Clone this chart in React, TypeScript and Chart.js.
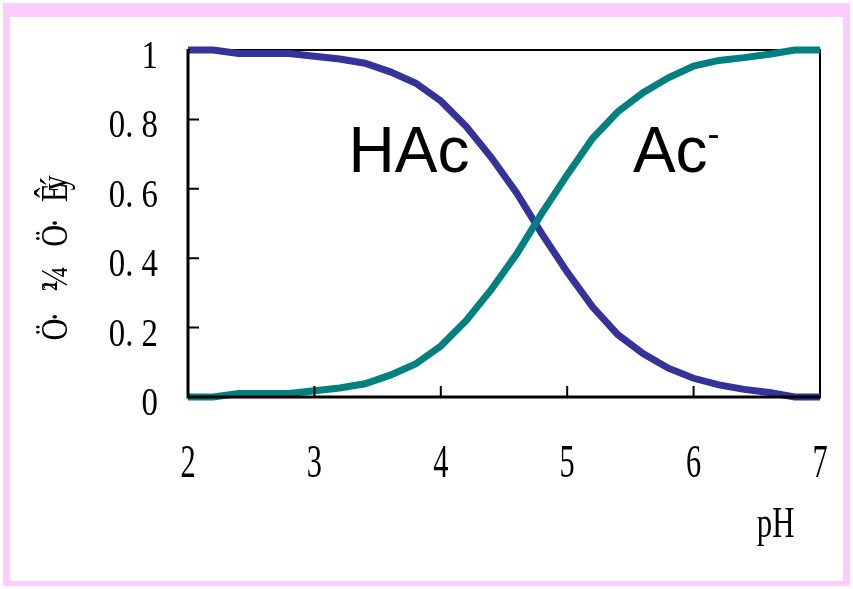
import React, { useEffect, useRef } from "react";
import { Chart, registerables } from "chart.js";

Chart.register(...registerables);

// pH grid and species fractions
const pH = [2.0, 2.2, 2.4, 2.6, 2.8, 3.0, 3.2, 3.4, 3.6, 3.8, 4.0, 4.2, 4.4, 4.6, 4.8, 5.0, 5.2, 5.4, 5.6, 5.8, 6.0, 6.2, 6.4, 6.6, 6.8, 7.0];
const hac = [1.0, 1.0, 0.99, 0.99, 0.99, 0.982, 0.974, 0.962, 0.937, 0.905, 0.853, 0.78, 0.69, 0.588, 0.47, 0.36, 0.26, 0.18, 0.125, 0.083, 0.054, 0.035, 0.022, 0.013, 0.0, 0.0];
const acMinus = [0.0, 0.0, 0.01, 0.01, 0.01, 0.018, 0.026, 0.038, 0.063, 0.095, 0.147, 0.22, 0.31, 0.412, 0.53, 0.64, 0.745, 0.822, 0.877, 0.92, 0.954, 0.97, 0.978, 0.988, 1.0, 1.0];

const xTicks = [2, 3, 4, 5, 6, 7];
const xTickLabels = ["2", "3", "4", "5", "6", "7"];
const yTicks = [0, 0.2, 0.4, 0.6, 0.8, 1];
const yTickLabels = ["0", "0. 2", "0. 4", "0. 6", "0. 8", "1"];
const xTitle = "pH";
const yTitleParts = ["Ö·", "²¼", "Ö·", "Êý"];
const hacLabel = "HAc";
const acLabel = "Ac";
const acCharge = "-";

const HAC_COLOR = "#333399";
const AC_COLOR = "#008080";
const SERIF = "'Liberation Serif', 'DejaVu Serif', serif";
const SANS = "'Liberation Sans', Arial, sans-serif";

function condensedText(
  ctx: CanvasRenderingContext2D,
  text: string,
  x: number,
  y: number,
  font: string,
  sx: number,
  align: CanvasTextAlign
) {
  ctx.save();
  ctx.translate(x, y);
  ctx.scale(sx, 1);
  ctx.font = font;
  ctx.textAlign = align;
  ctx.textBaseline = "alphabetic";
  ctx.fillStyle = "#000";
  ctx.fillText(text, 0, 0);
  ctx.restore();
}

const framePlugin = {
  id: "frameAndText",
  beforeDatasetsDraw(chart: any) {
    const { ctx, chartArea } = chart;
    const { left, right, top, bottom } = chartArea;
    ctx.save();
    ctx.strokeStyle = "#000";
    ctx.lineWidth = 2;
    ctx.beginPath();
    ctx.moveTo(left, top);
    ctx.lineTo(right, top);
    ctx.lineTo(right, bottom);
    ctx.stroke();
    ctx.restore();
  },
  afterDatasetsDraw(chart: any) {
    const { ctx, chartArea, scales } = chart;
    const { left, right, top, bottom } = chartArea;
    const xs = scales.x;
    const ys = scales.y;
    ctx.save();
    ctx.strokeStyle = "#000";
    // main axes
    ctx.lineWidth = 3;
    ctx.beginPath();
    ctx.moveTo(left, top - 1);
    ctx.lineTo(left, bottom);
    ctx.lineTo(right + 1, bottom);
    ctx.stroke();
    // inward tick marks
    ctx.lineWidth = 2;
    ctx.beginPath();
    yTicks.forEach((v) => {
      const py = ys.getPixelForValue(v);
      if (v > 0 && v < 1) {
        ctx.moveTo(left, py);
        ctx.lineTo(left + 11, py);
      }
    });
    xTicks.forEach((v) => {
      const px = xs.getPixelForValue(v);
      if (v > 2 && v < 7) {
        ctx.moveTo(px, bottom);
        ctx.lineTo(px, bottom - 11);
      }
    });
    ctx.stroke();
    ctx.restore();

    // tick labels
    yTicks.forEach((v, i) => {
      const py = ys.getPixelForValue(v);
      condensedText(ctx, yTickLabels[i], left - 30, py + 18, `40px ${SERIF}`, 0.82, "right");
    });
    xTicks.forEach((v, i) => {
      const px = xs.getPixelForValue(v);
      condensedText(ctx, xTickLabels[i], px, bottom + 80, `46px ${SERIF}`, 0.66, "center");
    });

    // axis titles
    condensedText(ctx, xTitle, xs.getPixelForValue(6.5), bottom + 140, `44px ${SERIF}`, 0.7, "left");
    const titleCenters = [0.2, 0.33, 0.47, 0.59];
    const titleSpacing = ["-4px", "-9px", "-4px", "-9px"];
    yTitleParts.forEach((part, i) => {
      const cy = ys.getPixelForValue(titleCenters[i]);
      ctx.save();
      ctx.translate(67, cy);
      ctx.rotate(-Math.PI / 2);
      ctx.scale(0.8, 1);
      ctx.font = `38px ${SERIF}`;
      (ctx as any).letterSpacing = titleSpacing[i];
      ctx.textAlign = "center";
      ctx.textBaseline = "alphabetic";
      ctx.fillStyle = "#000";
      ctx.fillText(part, 0, 0);
      ctx.restore();
    });

    // species labels
    ctx.save();
    ctx.fillStyle = "#000";
    ctx.textBaseline = "alphabetic";
    ctx.textAlign = "left";
    ctx.font = `64px ${SANS}`;
    ctx.fillText(hacLabel, xs.getPixelForValue(3.27), ys.getPixelForValue(0.649));
    const acX = xs.getPixelForValue(5.52);
    const acY = ys.getPixelForValue(0.649);
    ctx.fillText(acLabel, acX, acY);
    const w = ctx.measureText(acLabel).width;
    ctx.font = `36px ${SANS}`;
    ctx.fillText(acCharge, acX + w, acY - 26);
    ctx.restore();
  },
};

export default function App() {
  const canvasRef = useRef<HTMLCanvasElement | null>(null);

  useEffect(() => {
    const canvas = canvasRef.current;
    if (!canvas) return;
    const chart = new Chart(canvas, {
      type: "line",
      data: {
        datasets: [
          {
            label: "Ac-",
            data: pH.map((x, i) => ({ x, y: acMinus[i] })),
            borderColor: AC_COLOR,
            backgroundColor: AC_COLOR,
            borderWidth: 7,
            pointRadius: 0,
            tension: 0,
            clip: 12,
          },
          {
            label: "HAc",
            data: pH.map((x, i) => ({ x, y: hac[i] })),
            borderColor: HAC_COLOR,
            backgroundColor: HAC_COLOR,
            borderWidth: 7,
            pointRadius: 0,
            tension: 0,
            clip: 12,
          },
        ],
      },
      options: {
        animation: false,
        responsive: false,
        devicePixelRatio: 1,
        layout: { padding: { left: 188, top: 50, right: 33, bottom: 192 } },
        plugins: {
          legend: { display: false },
          tooltip: { enabled: false },
        },
        scales: {
          x: {
            type: "linear",
            min: 2,
            max: 7,
            ticks: { display: false },
            grid: { display: false },
            border: { display: false },
            afterFit: (s: any) => {
              s.height = 0;
            },
          },
          y: {
            type: "linear",
            min: 0,
            max: 1,
            ticks: { display: false },
            grid: { display: false },
            border: { display: false },
            afterFit: (s: any) => {
              s.width = 0;
            },
          },
        },
      },
      plugins: [framePlugin],
    } as any);
    return () => chart.destroy();
  }, []);

  return (
    <div
      style={{
        position: "fixed",
        left: 0,
        top: 0,
        width: 853,
        height: 589,
        background: "#fff",
        overflow: "hidden",
      }}
    >
      <div
        style={{
          position: "absolute",
          left: 3,
          top: 3,
          width: 853 - 3 - 3,
          height: 589 - 3 - 3,
          boxSizing: "border-box",
          borderStyle: "solid",
          borderColor: "#FFCCFF",
          borderWidth: "14px 7px 5px 7px",
        }}
      />
      <canvas
        ref={canvasRef}
        width={853}
        height={589}
        style={{ position: "absolute", left: 0, top: 0, display: "block" }}
      />
    </div>
  );
}
